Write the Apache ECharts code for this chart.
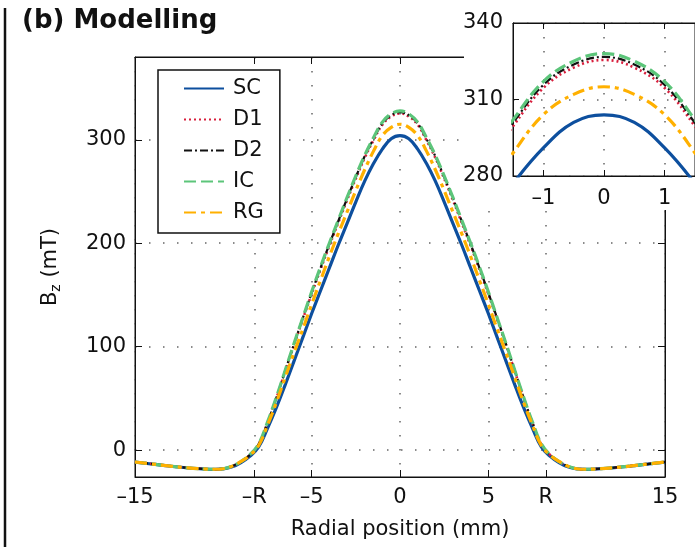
<!DOCTYPE html>
<html><head><meta charset="utf-8">
<script src="https://cdn.jsdelivr.net/npm/echarts@6/dist/echarts.min.js"></script>
<style>html,body{margin:0;padding:0;background:#fff}#c{width:695px;height:547px}</style>
</head><body><div id="c"></div>
<script>
// Radial position (mm)
const radialPos = [-15,-14,-13,-12,-11,-10.5,-10,-9.5,-9,-8.5,-8,-7.5,-7,-6.5,-6,-5.5,-5,-4.5,-4,-3.5,-3,-2.5,-2,-1.5,-1,-0.5,0,
  0.5,1,1.5,2,2.5,3,3.5,4,4.5,5,5.5,6,6.5,7,7.5,8,8.5,9,9.5,10,10.5,11,12,13,14,15];
// Bz (mT)
const SC = [-11.6,-13.6,-15.6,-17.3,-18.4,-18.6,-18.2,-16.2,-12,-6,3,21,41,63,86,109,132,154,176,198,219,240,260,277,291,301,304,
  301,291,277,260,240,219,198,176,154,132,109,86,63,41,21,3,-6,-12,-16.2,-18.2,-18.6,-18.4,-17.3,-15.6,-13.6,-11.6];
const D1 = [-11.5,-13.5,-15.5,-17.2,-18.3,-18.5,-18,-15.5,-11,-4.7,5.5,26,50,76,101.5,126.5,151,174.5,197.5,219.5,241.5,262.5,282.5,299.5,314.5,322.5,325.5,
  322.5,314.5,299.5,282.5,262.5,241.5,219.5,197.5,174.5,151,126.5,101.5,76,50,26,5.5,-4.7,-11,-15.5,-18,-18.5,-18.3,-17.2,-15.5,-13.5,-11.5];
const D2 = [-11.5,-13.5,-15.5,-17.2,-18.3,-18.5,-18,-15.5,-11,-4.6,5.8,26.5,50.5,76.5,102.5,127.5,152,176,199,221,243,264,284,300.8,315.7,323.7,326.7,
  323.7,315.7,300.8,284,264,243,221,199,176,152,127.5,102.5,76.5,50.5,26.5,5.8,-4.6,-11,-15.5,-18,-18.5,-18.3,-17.2,-15.5,-13.5,-11.5];
const IC = [-11.5,-13.5,-15.5,-17.2,-18.3,-18.5,-18,-15.5,-11,-4.5,6,27,51,77,103,128,153,177,200,222,244,265,285,302,317,325,328,
  325,317,302,285,265,244,222,200,177,153,128,103,77,51,27,6,-4.5,-11,-15.5,-18,-18.5,-18.3,-17.2,-15.5,-13.5,-11.5];
const RG = [-11.5,-13.5,-15.5,-17.2,-18.3,-18.5,-18,-15.5,-11,-5,4.5,24,46,70,94,117,141,164,187,209,230,251,271,289,304,312,315,
  312,304,289,271,251,230,209,187,164,141,117,94,70,46,24,4.5,-5,-11,-15.5,-18,-18.5,-18.3,-17.2,-15.5,-13.5,-11.5];

const seriesNames = ['SC','D1','D2','IC','RG'];
const xTickValues = [-15,-8.25,-5,0,5,8.25,15];
const xTickLabels = ['\u201315','\u2013R','\u20135','0','5','R','15'];
const yTickValues = [0,100,200,300];
const insetXTicks = [-1,0,1];
const insetXLabels = ['\u20131','0','1'];
const insetYTicks = [280,310,340];

const FONT = 'DejaVu Sans';
const seriesData = [SC, D1, D2, IC, RG];
const styles = [
  {color:'#0d4f9e', width:3.2, type:'solid'},
  {color:'#d81e3c', width:2.6, type:[2,3]},
  {color:'#111111', width:2.2, type:[8,3,2,3]},
  {color:'#5cc57a', width:3.2, type:[12,5]},
  {color:'#ffb000', width:3.2, type:[12,5,4,5]}
];
const pairs = arr => radialPos.map((x,i)=>[x, arr[i]]);

const gridLine = {show:true, lineStyle:{color:'#666', width:1.5, type:[1.5,12.5]}};
const lbl = {color:'#111', fontSize:21, fontFamily:FONT};
const axLine = {show:true, onZero:false, lineStyle:{color:'#111', width:1}};

const xLabelMap = v => { const i = xTickValues.indexOf(v); return i>=0 ? xTickLabels[i] : ''; };
const ixLabelMap = v => { const i = insetXTicks.indexOf(v); return i>=0 ? insetXLabels[i] : ''; };

const series = [];
seriesNames.forEach((n,k)=>{
  series.push({name:n, type:'line', xAxisIndex:0, yAxisIndex:0, data:pairs(seriesData[k]),
    showSymbol:false, symbol:'none', smooth:0.4, z:2+k*0.01,
    lineStyle:{color:styles[k].color, width:styles[k].width, type:styles[k].type}, itemStyle:{color:styles[k].color}});
});
seriesNames.forEach((n,k)=>{
  series.push({name:n, type:'line', xAxisIndex:2, yAxisIndex:2, data:pairs(seriesData[k]),
    showSymbol:false, symbol:'none', smooth:0.4, z:61+k*0.01, clip:true,
    lineStyle:{color:styles[k].color, width:styles[k].width, type:styles[k].type}, itemStyle:{color:styles[k].color}});
});

const chart = echarts.init(document.getElementById('c'), null, {renderer:'canvas'});
chart.setOption({
  animation:false,
  backgroundColor:'#fff',
  grid:[
    {left:135, top:57, width:530, height:420, show:true, borderColor:'#111', borderWidth:1, z:0},
    {left:513, top:23, width:194, height:153, show:true, borderColor:'#111', borderWidth:1, backgroundColor:'#fff', z:55}
  ],
  xAxis:[
    {type:'value', gridIndex:0, min:-15, max:15, position:'bottom',
     axisLine:axLine,
     axisTick:{show:true, inside:true, length:7, customValues:xTickValues, lineStyle:{color:'#111'}},
     axisLabel:{...lbl, margin:10, customValues:xTickValues, formatter:xLabelMap},
     splitLine:gridLine,
     name:'Radial position (mm)', nameLocation:'middle', nameGap:42, nameTextStyle:{...lbl}},
    {type:'value', gridIndex:0, min:-15, max:15, position:'top',
     axisLine:axLine,
     axisTick:{show:true, inside:true, length:7, customValues:xTickValues, lineStyle:{color:'#111'}},
     axisLabel:{show:false}, splitLine:{show:false}},
    {type:'value', gridIndex:1, min:-1.5, max:1.5, position:'bottom', z:60,
     axisLine:axLine,
     axisTick:{show:true, inside:true, length:6, customValues:insetXTicks, lineStyle:{color:'#111'}},
     axisLabel:{...lbl, margin:12, customValues:insetXTicks, formatter:ixLabelMap},
     splitLine:gridLine},
    {type:'value', gridIndex:1, min:-1.5, max:1.5, position:'top', z:60,
     axisLine:axLine,
     axisTick:{show:true, inside:true, length:6, customValues:insetXTicks, lineStyle:{color:'#111'}},
     axisLabel:{show:false}, splitLine:{show:false}}
  ],
  yAxis:[
    {type:'value', gridIndex:0, min:-26, max:380, position:'left',
     axisLine:axLine,
     axisTick:{show:true, inside:true, length:7, customValues:yTickValues, lineStyle:{color:'#111'}},
     axisLabel:{...lbl, margin:9, customValues:yTickValues},
     splitLine:gridLine,
     name:'{a|B}{b|z}{a| (mT)}', nameLocation:'middle', nameGap:72, nameRotate:90,
     nameTextStyle:{rich:{a:{fontSize:21, fontFamily:FONT, color:'#111'}, b:{fontSize:14, fontFamily:FONT, color:'#111', verticalAlign:'bottom', padding:[10,0,0,0]}}}},
    {type:'value', gridIndex:0, min:-26, max:380, position:'right',
     axisLine:axLine,
     axisTick:{show:true, inside:true, length:7, customValues:yTickValues, lineStyle:{color:'#111'}},
     axisLabel:{show:false}, splitLine:{show:false}},
    {type:'value', gridIndex:1, min:280, max:340, position:'left', z:60,
     axisLine:axLine,
     axisTick:{show:true, inside:true, length:6, customValues:insetYTicks, lineStyle:{color:'#111'}},
     axisLabel:{...lbl, margin:10, customValues:insetYTicks},
     splitLine:gridLine}
  ],
  legend:{
    show:true, orient:'vertical', left:158, top:70, data:seriesNames,
    itemWidth:40, itemHeight:14, itemGap:10, itemStyle:{opacity:0},
    padding:[8,16,10,25], borderColor:'#111', borderWidth:1.5, backgroundColor:'#fff',
    textStyle:{fontSize:21, fontFamily:FONT, color:'#111', padding:[0,0,0,4]}, selectedMode:false
  },
  graphic:[
    {type:'rect', shape:{x:464, y:0, width:240, height:210}, style:{fill:'#fff'}, z:50, silent:true},
    {type:'line', shape:{x1:5, y1:8, x2:5, y2:547}, style:{stroke:'#111', lineWidth:2.5}, z:100},
    {type:'text', x:22, y:8, style:{text:'(b) Modelling', font:'bold 26px "DejaVu Sans"', fill:'#111', textVerticalAlign:'top'}, z:100}
  ],
  series:series
});
</script></body></html>
